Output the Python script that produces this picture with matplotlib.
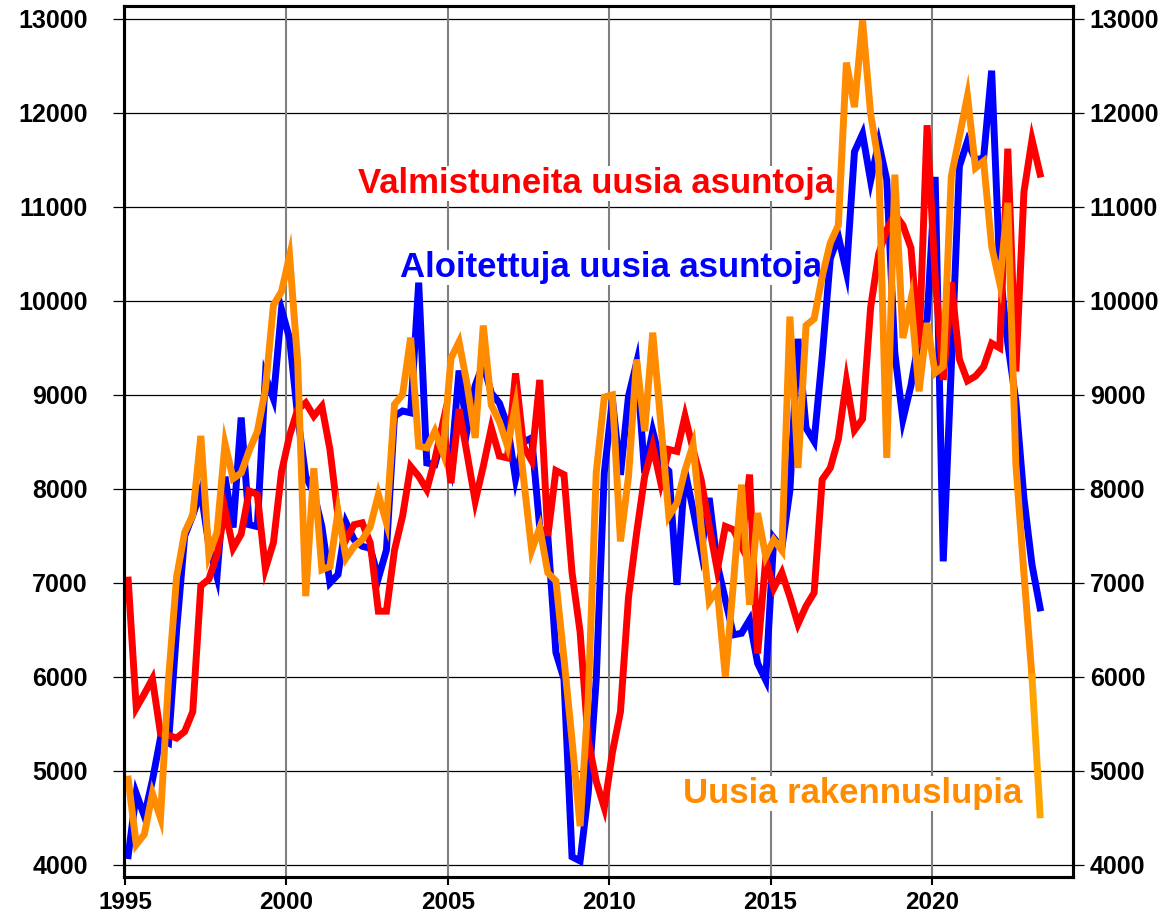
import matplotlib
matplotlib.use("Agg")
import matplotlib.pyplot as plt
import numpy as np

# Quarterly data 1995Q1 .. 2023Q2
start_year = 1995
n_quarters = 114

valmistuneita = [
    7030, 5670, 5820, 5980, 5400, 5380, 5350, 5420, 5630, 6970,
    7040, 7300, 7780, 7370, 7520, 7980, 7940, 7150, 7430, 8180,
    8570, 8845, 8917, 8775, 8880, 8420, 7710, 7460, 7620, 7640,
    7425, 6700, 6700, 7350, 7710, 8240, 8135, 7993, 8313, 8703,
    8063, 8850, 8370, 7870, 8240, 8650, 8350, 8330, 9230, 8450,
    8300, 9160, 7500, 8196, 8152, 7110, 6478, 5326, 4890, 4609,
    5196, 5630, 6850, 7530, 8135, 8455, 8064, 8420, 8400, 8775,
    8420, 8100, 7602, 7140, 7602, 7567, 7390, 8153, 6250, 7250,
    6943, 7109, 6850, 6564, 6754, 6896, 8100, 8223, 8530, 9147,
    8626, 8744, 9929, 10500, 10758, 10924, 10806, 10564, 9500, 11870,
    10250, 9160, 10200, 9380, 9150, 9200, 9300, 9550, 9500, 11620,
    9250, 11160, 11716, 11350,
]

aloitettuja = [
    4100, 4760, 4520, 4900, 5350, 5300, 6500, 7500, 7720, 7980,
    7400, 7070, 8130, 7590, 8760, 7620, 7600, 9200, 8960, 9910,
    9600, 8775, 8135, 7957, 7600, 7000, 7090, 7640, 7460, 7390,
    7370, 7050, 7350, 8775, 8830, 8810, 10195, 8277, 8260, 8580,
    8240, 9260, 8630, 9100, 9330, 9020, 8913, 8674, 8109, 8500,
    8543, 7587, 7500, 6261, 5978, 4087, 4043, 4761, 5978, 8174,
    8950, 8150, 8988, 9343, 8170, 8615, 8277, 8190, 6980, 8190,
    7780, 7336, 7904, 7200, 6820, 6448, 6465, 6607, 6145, 5968,
    7478, 7370, 7986, 9597, 8649, 8507, 9408, 10450, 10687, 10308,
    11588, 11777, 11280, 11682, 11290, 9447, 8738, 9100, 9600, 9800,
    11320, 7230, 9300, 11433, 11700, 11500, 11521, 12450, 10340, 9547,
    8936, 7900, 7193, 6735,
]

rakennuslupia = [
    4913, 4217, 4326, 4760, 4500, 5980, 7065, 7540, 7720, 8565,
    7300, 7540, 8480, 8110, 8170, 8410, 8610, 9060, 9957, 10100,
    10480, 9350, 6860, 8220, 7140, 7175, 7760, 7265, 7390, 7460,
    7600, 7940, 7640, 8900, 9005, 9610, 8455, 8437, 8615, 8384,
    9390, 9565, 9110, 8543, 9739, 8891, 8717, 8457, 8891, 8109,
    7348, 7587, 7109, 7022, 6196, 5326, 4413, 5760, 8174, 8978,
    9000, 7442, 8135, 9378, 8615, 9663, 8700, 7710, 7850, 8200,
    8470, 7600, 6803, 6928, 6004, 7000, 8046, 6767, 7744, 7282,
    7460, 7346, 9834, 8223, 9739, 9810, 10261, 10616, 10806, 12536,
    12062, 12986, 11991, 11469, 8330, 11344, 9606, 10014, 9039, 9766,
    9234, 9305, 11326, 11750, 12180, 11415, 11486, 10580, 10190, 11044,
    8263, 7100, 6000, 4534,
]

x_ticks = [1995, 2000, 2005, 2010, 2015, 2020]
y_ticks = [4000, 5000, 6000, 7000, 8000, 9000, 10000, 11000, 12000, 13000]

label_red = "Valmistuneita uusia asuntoja"
label_blue = "Aloitettuja uusia asuntoja"
label_orange = "Uusia rakennuslupia"

RED = "#FF0000"
BLUE = "#0000FF"
ORANGE = "#FF8C00"
ORANGE_LAST = "#FFA500"

plt.rcParams['font.family'] = ['Liberation Sans', 'DejaVu Sans']

x = start_year + 0.1 + 0.25 * np.arange(n_quarters)

fig = plt.figure(figsize=(11.68, 9.16), dpi=100)
ax = fig.add_axes([124/1168, 1 - 877/916, (1073 - 124)/1168, (877 - 6)/916])

ax.set_xlim(1994.97, 2024.37)
ax.set_ylim(3872, 13138)

# grid
for yt in y_ticks:
    ax.axhline(yt, color='black', lw=0.9, zorder=1)
for xt in x_ticks:
    ax.axvline(xt, color='#808080', lw=1.5, zorder=1)

lw = 5.0
ax.plot(x, aloitettuja, color=BLUE, lw=lw, zorder=4, solid_joinstyle='miter')
ax.plot(x, valmistuneita, color=RED, lw=lw, zorder=5, solid_joinstyle='miter')
ax.plot(x[:-1], rakennuslupia[:-1], color=ORANGE, lw=lw, zorder=6, solid_joinstyle='miter')
ax.plot(x[-2:], rakennuslupia[-2:], color=ORANGE_LAST, lw=lw, zorder=6)

box = dict(facecolor='white', edgecolor='none', pad=1)
ax.text(2002.22, 11149, label_red, color=RED, fontsize=25, fontweight='bold',
        va='baseline', ha='left', bbox=box, zorder=3)
ax.text(2003.52, 10255, label_blue, color=BLUE, fontsize=25, fontweight='bold',
        va='baseline', ha='left', bbox=box, zorder=3)
ax.text(2012.29, 4660, label_orange, color=ORANGE, fontsize=25, fontweight='bold',
        va='baseline', ha='left', bbox=box, zorder=3)

ax.set_xticks(x_ticks)
ax.set_xticklabels([str(v) for v in x_ticks], fontsize=17.5, fontweight='bold')
ax.set_yticks(y_ticks)
ax.set_yticklabels([str(v) for v in y_ticks], fontsize=18, fontweight='bold')
ax.tick_params(axis='x', direction='out', length=6, width=1.5, pad=4)
ax.tick_params(axis='y', direction='out', length=8, width=0.9, pad=18)

ax2 = ax.twinx()
ax2.set_ylim(ax.get_ylim())
ax2.set_yticks(y_ticks)
ax2.set_yticklabels([str(v) for v in y_ticks], fontsize=18, fontweight='bold')
ax2.tick_params(axis='y', direction='out', length=8, width=0.9, pad=4)

for a in (ax, ax2):
    for s in a.spines.values():
        s.set_linewidth(2.2)
        s.set_color('black')

fig.savefig("out.png", dpi=100)
